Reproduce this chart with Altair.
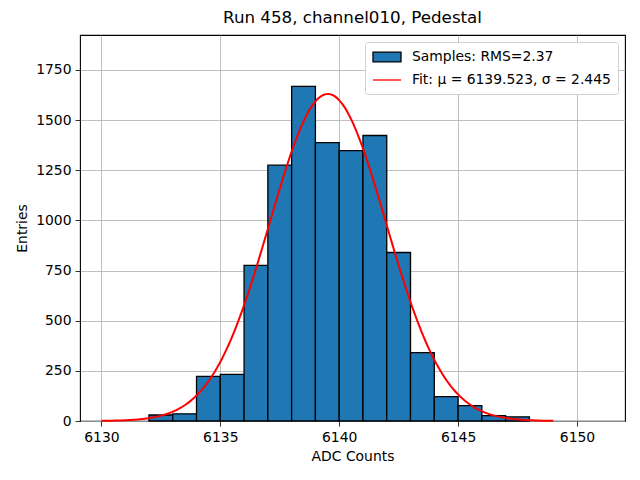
import altair as alt
import numpy as np
import pandas as pd

# ---- data ----
bin_lo = [6132, 6133, 6134, 6135, 6136, 6137, 6138, 6139, 6140, 6141,
          6142, 6143, 6144, 6145, 6146, 6147]
counts = [30, 36, 222, 232, 776, 1275, 1668, 1388, 1348, 1423,
          840, 341, 121, 77, 27, 21]
bin_width = 1

fit_mu = 6139.523
fit_sigma = 2.445
fit_amp = 1630.0
fit_x = np.linspace(6130, 6149, 200)

LAB_S = "Samples: RMS=2.37"
LAB_F = "Fit: μ = 6139.523, σ = 2.445"
title_text = "Run 458, channel010, Pedestal"
x_ticks = [6130, 6135, 6140, 6145, 6150]
y_ticks = [0, 250, 500, 750, 1000, 1250, 1500, 1750]

hist_df = pd.DataFrame({
    "lo": bin_lo,
    "hi": [b + bin_width for b in bin_lo],
    "count": counts,
    "base": 0,
    "series": LAB_S,
})
fit_df = pd.DataFrame({
    "x": fit_x,
    "y": fit_amp * np.exp(-0.5 * ((fit_x - fit_mu) / fit_sigma) ** 2),
    "series": LAB_F,
})

FONT = "DejaVu Sans"
dom = [LAB_S, LAB_F]
xscale = alt.Scale(domain=[6129.1, 6152.02], nice=False, zero=False, padding=0)
yscale = alt.Scale(domain=[0, 1924], nice=False, padding=0)

xaxis = alt.Axis(values=x_ticks, title="ADC Counts", format="d")
yaxis = alt.Axis(values=y_ticks, title="Entries", format="d")

fill_scale = alt.Scale(domain=dom, range=["#1f77b4", "transparent"])
stroke_scale = alt.Scale(domain=dom, range=["black", "red"])
shape_scale = alt.Scale(domain=dom, range=["M-2,-0.7H2V0.7H-2Z", "M-2,0H2"])

leg = alt.Legend(title=None, orient="top-right", offset=7,
                 fillColor="white", strokeColor="#d0d0d0", cornerRadius=3,
                 padding=7, rowPadding=7, symbolSize=196, symbolStrokeWidth=1.3,
                 symbolOffset=7,
                 labelFontSize=13.9, labelFont=FONT, labelColor="black",
                 labelOffset=17, labelLimit=400, symbolOpacity=1)

bars = alt.Chart(hist_df).mark_bar(strokeWidth=1.3, opacity=1, orient="vertical").encode(
    x=alt.X("lo:Q", scale=xscale, axis=xaxis),
    x2="hi:Q",
    y=alt.Y("count:Q", scale=yscale, axis=yaxis),
    y2="base:Q",
    fill=alt.Fill("series:N", scale=fill_scale, legend=leg),
    stroke=alt.Stroke("series:N", scale=stroke_scale, legend=leg),
)

line = alt.Chart(fit_df).mark_line(strokeWidth=2).encode(
    x=alt.X("x:Q", scale=xscale),
    y=alt.Y("y:Q", scale=yscale),
    stroke=alt.Stroke("series:N", scale=stroke_scale, legend=leg),
)

shapes = alt.Chart(fit_df).mark_point(filled=True).encode(
    x=alt.X("x:Q", scale=xscale),
    y=alt.Y("y:Q", scale=yscale),
    shape=alt.Shape("series:N", scale=shape_scale, legend=leg),
).transform_filter("false")

chart = alt.layer(bars, line, shapes).properties(
    width=545, height=386,
    title=alt.Title(title_text, font=FONT, fontSize=16.7, fontWeight="normal",
                    color="black", offset=8),
    autosize=alt.AutoSizeParams(type="none"),
    padding={"left": 72, "top": 27, "right": 7, "bottom": 51},
).configure_view(
    stroke="black", strokeWidth=1.1
).configure_axis(
    grid=True, gridColor="#b0b0b0", gridWidth=0.8,
    domain=False, tickColor="black", tickSize=5, tickWidth=0.8,
    labelFont=FONT, labelFontSize=13.9, labelColor="black", labelPadding=4,
    titleFont=FONT, titleFontSize=13.9, titleFontWeight="normal",
    titleColor="black", zindex=1,
).configure_axisX(titlePadding=6, labelFlush=False
).configure_axisY(titlePadding=6
)

chart.save("out.html", embed_options={"renderer": "svg", "actions": False})
